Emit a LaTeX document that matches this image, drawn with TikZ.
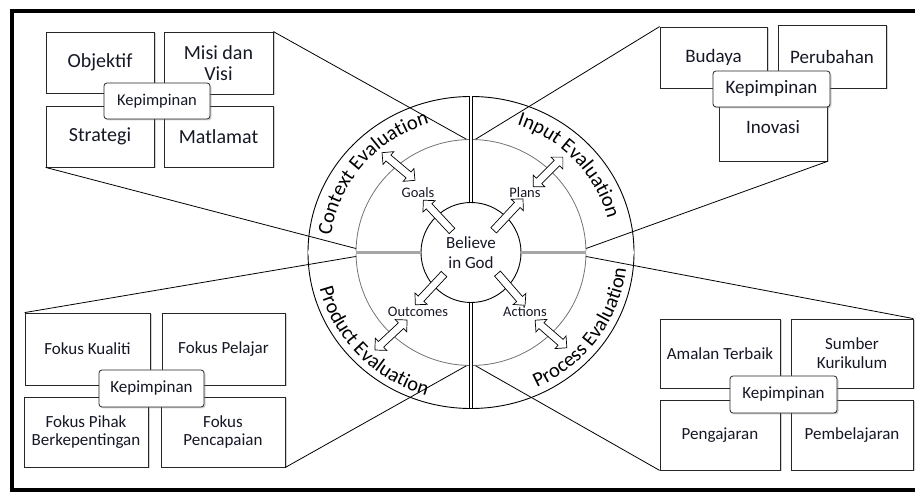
\documentclass[tikz,border=0pt]{standalone}
\usepackage{fontspec}
\setmainfont{Carlito}
\usetikzlibrary{calc,shapes.arrows,shadows,decorations.text}
\definecolor{Ink}{RGB}{22,24,38}

\begin{document}
\begin{tikzpicture}[x=1pt,y=1pt,
    ibox/.style={draw=black!85, line width=0.8pt, fill=white, align=center, inner sep=0pt, text=Ink,
      drop shadow={opacity=0.35, shadow xshift=1.5pt, shadow yshift=-1.5pt}},
    hub/.style={ibox, rounded corners=3pt},
    lead/.style={line width=0.8pt},
    spoke/.style={line width=0.6pt, double=white, double distance=2.2pt},
    fatarrow/.style={single arrow, draw, fill=white, line width=0.7pt, inner xsep=0pt, inner ysep=3.5pt,
      single arrow head extend=4.5pt, single arrow head indent=0pt},
    twinarrow/.style={double arrow, draw, fill=white, line width=0.7pt, inner xsep=0pt, inner ysep=3.5pt,
      double arrow head extend=4.5pt},
    ringtext/.style={decorate, decoration={text along path, text align=center,
      text={|\fontsize{20.5}{20.5}\selectfont|#1}}}
  ]
  \useasboundingbox (0,0) rectangle (915,495);
  \clip (0,0) rectangle (915,495);

  % frame
  \draw[line width=4pt] (12,5) rectangle (940,484);

  % centre and points on the middle ring
  \coordinate (C) at (471,242.5);
  \coordinate (mTL) at ($(C)+(92:115pt and 113pt)$);
  \coordinate (mTR) at ($(C)+(88:115pt and 113pt)$);
  \coordinate (mLU) at ($(C)+(178:115pt and 113pt)$);
  \coordinate (mLD) at ($(C)+(182:115pt and 113pt)$);
  \coordinate (mRU) at ($(C)+(2:115pt and 113pt)$);
  \coordinate (mRD) at ($(C)+(358:115pt and 113pt)$);
  \coordinate (mBL) at ($(C)+(268:115pt and 113pt)$);
  \coordinate (mBR) at ($(C)+(272:115pt and 113pt)$);
  \coordinate (rimN) at ($(C)+(0,156)$);
  \coordinate (rimS) at ($(C)+(0,-156)$);
  \coordinate (rimW) at ($(C)+(-163,0)$);
  \coordinate (rimE) at ($(C)+(163,0)$);

  % top left group
  \node[ibox, minimum width=108pt, minimum height=61pt, font=\fontsize{20}{21.5}\selectfont] (objektif) at (100,432.5) {Objektif};
  \node[ibox, minimum width=109pt, minimum height=62pt, font=\fontsize{20}{21.5}\selectfont] (misi) at (218.5,432) {Misi dan\\Visi};
  \node[ibox, minimum width=108pt, minimum height=61pt, font=\fontsize{20}{21.5}\selectfont] (strategi) at (100,358.5) {Strategi};
  \node[ibox, minimum width=109pt, minimum height=61pt, font=\fontsize{20}{21.5}\selectfont] (matlamat) at (218.5,358.5) {Matlamat};
  \node[hub, minimum width=106pt, minimum height=36pt, font=\fontsize{16.5}{18}\selectfont] (kepTL) at (157,394) {Kepimpinan};

  % top right group
  \node[ibox, minimum width=107pt, minimum height=61pt, font=\fontsize{19}{21}\selectfont] (budaya) at (713.5,437.5) {Budaya};
  \node[ibox, minimum width=108pt, minimum height=63pt, font=\fontsize{19}{21}\selectfont] (perubahan) at (832,438.5) {Perubahan};
  \node[ibox, minimum width=108pt, minimum height=61pt, font=\fontsize{19}{21}\selectfont, text depth=8pt] (inovasi) at (773,364.5) {Inovasi};
  \node[hub, minimum width=117pt, minimum height=36pt, font=\fontsize{19}{21}\selectfont] (kepTR) at (771.5,406) {Kepimpinan};

  % bottom left group
  \node[ibox, minimum width=125pt, minimum height=72pt, font=\fontsize{17}{18}\selectfont] (kualiti) at (87.5,146) {Fokus Kualiti};
  \node[ibox, minimum width=123pt, minimum height=72pt, font=\fontsize{17}{18}\selectfont] (pelajar) at (223.5,146) {Fokus Pelajar};
  \node[ibox, minimum width=124pt, minimum height=70pt, font=\fontsize{17}{18}\selectfont] (pihak) at (86,63) {Fokus Pihak\\Berkepentingan};
  \node[ibox, minimum width=124pt, minimum height=70pt, font=\fontsize{17}{18}\selectfont] (pencapaian) at (223,63) {Fokus\\Pencapaian};
  \node[hub, minimum width=105pt, minimum height=37pt, font=\fontsize{17}{18}\selectfont] (kepBL) at (151.5,106.5) {Kepimpinan};

  % bottom right group
  \node[ibox, minimum width=120pt, minimum height=69pt, font=\fontsize{17}{19}\selectfont] (amalan) at (720,141.5) {Amalan Terbaik};
  \node[ibox, minimum width=122pt, minimum height=69pt, font=\fontsize{17}{19}\selectfont] (sumber) at (852,141.5) {Sumber\\Kurikulum};
  \node[ibox, minimum width=120pt, minimum height=70pt, font=\fontsize{17}{19}\selectfont] (pengajaran) at (720,60) {Pengajaran};
  \node[ibox, minimum width=122pt, minimum height=70pt, font=\fontsize{17}{19}\selectfont] (pembelajaran) at (852,60) {Pembelajaran};
  \node[hub, minimum width=107pt, minimum height=37pt, font=\fontsize{17}{19}\selectfont] (kepBR) at (783.5,100.5) {Kepimpinan};

  % leads from the groups to the ring
  \draw[lead] (misi.north east) -- (mTL);
  \draw[lead] (strategi.south west) -- (mLU);
  \draw[lead] (budaya.north west) -- (mTR);
  \draw[lead] (inovasi.south east) -- (mRU);
  \draw[lead] (kualiti.north west) -- (mLD);
  \draw[lead] (pencapaian.south east) -- (mBL);
  \draw[lead] (sumber.north east) -- (mRD);
  \draw[lead] (pengajaran.south west) -- (mBR);

  % rings
  \draw[line width=0.9pt] (C) ellipse [x radius=163pt, y radius=156pt];
  \draw[black!55, line width=0.8pt] (C) ellipse [x radius=115pt, y radius=113pt];

  % centre
  \node[circle, draw, fill=white, line width=0.9pt, minimum size=100pt, inner sep=0pt, align=center,
    text=Ink, font=\fontsize{17}{20}\selectfont] (god) at (C) {Believe\\in God};

  % spokes
  \draw[spoke] (rimN) -- (god.north);
  \draw[spoke] (rimS) -- (god.south);
  \draw[spoke] (rimW) -- (god.west);
  \draw[spoke] (rimE) -- (god.east);
  \draw[spoke, double=black!35] ($(C)+(-115,0)$) -- (god.west);
  \draw[spoke, double=black!35] ($(C)+(115,0)$) -- (god.east);

  % ring texts
  \path[ringtext={Context Evaluation}] ($(C)+(200.5:141pt and 135pt)$) arc[start angle=200.5, end angle=80.5, x radius=141pt, y radius=135pt];
  \path[ringtext={Input Evaluation}] ($(C)+(102:141pt and 135pt)$) arc[start angle=102, end angle=-18, x radius=141pt, y radius=135pt];
  \path[ringtext={Product Evaluation}] ($(C)+(163:156pt and 149pt)$) arc[start angle=163, end angle=283, x radius=156pt, y radius=149pt];
  \path[ringtext={Process Evaluation}] ($(C)+(265:156pt and 149pt)$) arc[start angle=265, end angle=385, x radius=156pt, y radius=149pt];

  % arrows
  \node[fatarrow, minimum height=42pt, rotate=133] (toGoals) at (439,278) {};
  \node[fatarrow, minimum height=43pt, rotate=47] (toPlans) at (507,279) {};
  \node[fatarrow, minimum height=42pt, rotate=227] (toOutcomes) at (431,207) {};
  \node[fatarrow, minimum height=42pt, rotate=311] (toActions) at (510,207) {};
  \node[twinarrow, minimum height=43pt, rotate=140] (ctxArrow) at (398.5,328.5) {};
  \node[twinarrow, minimum height=42pt, rotate=45] (inpArrow) at (548,323) {};
  \node[twinarrow, minimum height=44pt, rotate=43] (prdArrow) at (391,160) {};
  \node[twinarrow, minimum height=42pt, rotate=-41] (prcArrow) at (551,161) {};

  % labels
  \node[text=Ink, font=\fontsize{14.5}{15}\selectfont] (goals) at (418,302) {Goals};
  \node[text=Ink, font=\fontsize{14.5}{15}\selectfont] (plans) at (525,302) {Plans};
  \node[text=Ink, font=\fontsize{14.5}{15}\selectfont] (outcomes) at (418,183) {Outcomes};
  \node[text=Ink, font=\fontsize{14.5}{15}\selectfont] (actions) at (525,183) {Actions};
\end{tikzpicture}
\end{document}
